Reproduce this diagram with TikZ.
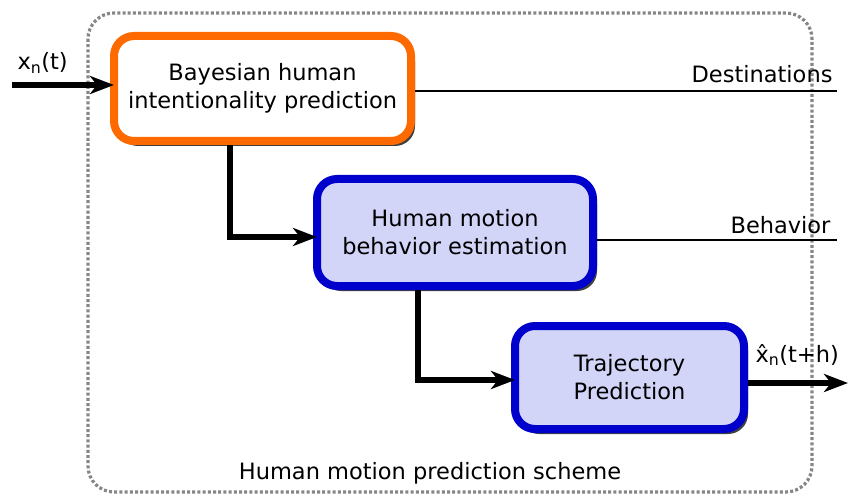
\documentclass[tikz,border=0pt]{standalone}
\usepackage{fontspec}
\setmainfont{DejaVu Sans}
\usetikzlibrary{shadows,arrows.meta}

\definecolor{boxorange}{HTML}{FF6A00}
\definecolor{boxblue}{HTML}{0000CC}
\definecolor{boxfill}{HTML}{D2D4F8}

\begin{document}
\begin{tikzpicture}[x=1pt,y=-1pt,
  txt/.style={font=\fontsize{22.5}{28}\selectfont},
  block/.style={txt, draw, line width=8pt, rounded corners=20pt,
    align=center, inner sep=0pt,
    drop shadow={shadow xshift=4pt, shadow yshift=-5pt, fill=black, opacity=0.75}},
  flow/.style={line width=6pt, -{Stealth[length=24pt,width=18pt,inset=7pt]}},
  tap/.style={line width=1.6pt},
  frame/.style={draw=gray!95, line width=3.2pt, dash pattern=on 3pt off 2.2pt, rounded corners=26pt}]

\useasboundingbox (0,0) rectangle (848,497);

% outer frame of the scheme
\draw[frame] (88,13) rectangle (812,492);
\node[txt, anchor=base] (title) at (430,479) {Human motion prediction scheme};

% processing blocks
\node[block, draw=boxorange, fill=white, minimum width=297pt, minimum height=105pt]
  (intent) at (262.5,88.5) {Bayesian human\\intentionality prediction};
\node[block, draw=boxblue, fill=boxfill, minimum width=276pt, minimum height=107pt]
  (behav) at (455,232.5) {Human motion\\behavior estimation};
\node[block, draw=boxblue, fill=boxfill, minimum width=229pt, minimum height=103pt]
  (traj) at (629.5,377.5) {Trajectory\\Prediction};

% free ends and bends
\coordinate (inStart) at (12,85);
\coordinate (destEnd) at (837,91);
\coordinate (behEnd) at (837,240);
\coordinate (outEnd) at (848,383);
\coordinate (bend1) at (230,237);
\coordinate (bend2) at (418,380);

% input
\draw[flow] (inStart) -- ([xshift=4pt]inStart -| intent.west);
\node[txt, anchor=base west] (xin) at (14,70) {x\textsubscript{n}(t)};

% side outputs
\draw[tap] (destEnd -| intent.east) -- (destEnd);
\node[txt, anchor=base east] (dest) at (836,83) {Destinations};
\draw[tap] (behEnd -| behav.east) -- (behEnd);
\node[txt, anchor=base east] (beh) at (834,233) {Behavior};

% chain between blocks
\draw[flow] (bend1 |- intent.south) -- (bend1) -- ([xshift=4pt]bend1 -| behav.west);
\draw[flow] (bend2 |- behav.south) -- (bend2) -- ([xshift=4pt]bend2 -| traj.west);

% predicted trajectory output
\draw[flow] (outEnd -| traj.east) -- (outEnd);
\node[txt, anchor=base west] (xout) at (752,362) {x̂\textsubscript{n}(t+h)};
\end{tikzpicture}
\end{document}
